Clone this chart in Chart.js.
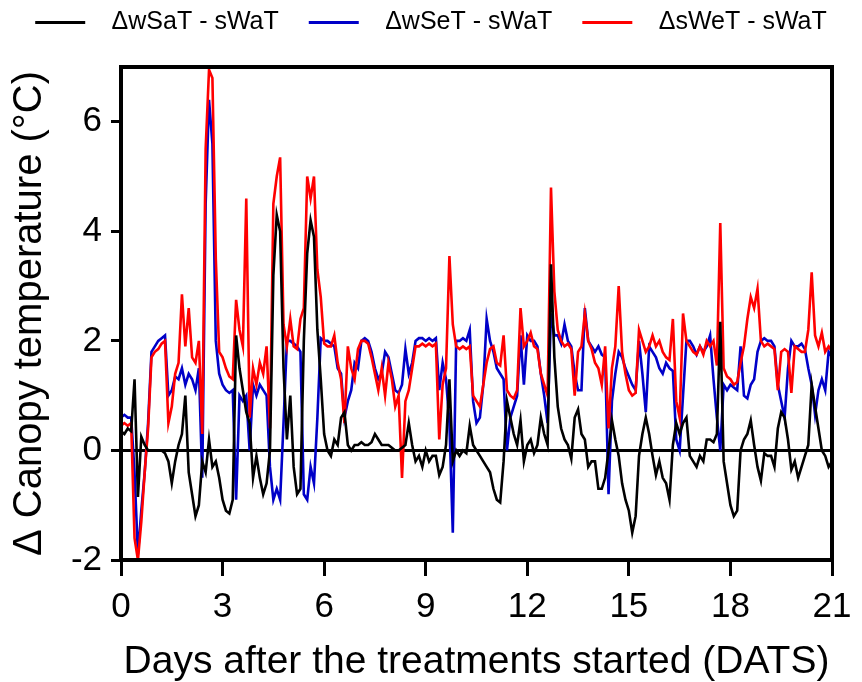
<!DOCTYPE html>
<html><head><meta charset="utf-8">
<script src="https://cdn.jsdelivr.net/npm/chart.js@4.4.0/dist/chart.umd.min.js"></script>
<style>html,body{margin:0;padding:0;background:#fff}#c{display:block}</style>
</head><body>
<canvas id="c" width="862" height="682"></canvas>
<script>
const seriesNames = ['ΔwSaT - sWaT', 'ΔwSeT - sWaT', 'ΔsWeT - sWaT'];
const xTickValues = [0, 3, 6, 9, 12, 15, 18, 21];
const yTickValues = [-2, 0, 2, 4, 6];
const xTitle = 'Days after the treatments started (DATS)';
const yTitle = 'Δ Canopy temperature (°C)';
const sampleStepDays = 0.1;

// ΔwSaT - sWaT (black), one reading every 0.1 day from day 0 to day 21
const wSaT = [
  0.35,0.30,0.40,0.35,1.30,-0.85,0.25,0.10,0.00,0.00,
  0.00,0.00,0.00,-0.05,-0.20,-0.60,-0.20,0.10,0.30,1.00,
  -0.40,-0.80,-1.20,-1.00,-0.20,-0.40,0.20,-0.30,-0.20,-0.50,
  -0.90,-1.10,-1.15,-0.90,2.10,1.50,1.10,0.70,0.50,-0.50,
  -0.10,-0.50,-0.80,-0.60,0.00,3.20,4.30,4.00,1.50,0.20,
  1.00,-0.30,-0.80,-0.70,2.00,3.60,4.20,3.90,2.20,1.30,
  0.30,0.00,-0.10,0.20,0.10,0.60,0.70,0.10,0.00,0.10,
  0.10,0.15,0.10,0.10,0.15,0.30,0.20,0.10,0.10,0.10,
  0.05,0.00,0.00,0.05,0.10,0.50,0.10,-0.20,-0.10,-0.30,
  0.00,-0.20,-0.10,-0.10,-0.45,-0.30,0.10,1.30,-0.20,0.00,
  -0.10,0.00,-0.05,0.45,0.10,0.00,-0.10,-0.20,-0.30,-0.40,
  -0.70,-0.90,-0.95,-0.20,0.90,0.60,0.30,0.10,0.55,-0.20,
  0.10,0.20,-0.05,0.10,0.60,0.30,0.10,3.40,1.70,0.80,
  0.40,0.20,0.10,-0.15,0.60,0.75,0.30,0.20,-0.30,-0.20,
  -0.20,-0.70,-0.70,-0.50,0.00,0.55,0.20,-0.10,-0.60,-0.90,
  -1.10,-1.50,-1.20,-0.10,0.30,0.60,0.30,-0.10,-0.45,-0.20,
  -0.50,-0.60,-0.90,0.10,0.50,0.30,0.50,0.60,-0.10,-0.20,
  -0.30,-0.10,-0.20,0.20,0.20,0.15,0.30,2.35,-0.20,-0.60,
  -1.00,-1.20,-1.10,0.00,0.20,0.30,0.55,0.10,-0.30,-0.55,
  -0.05,-0.10,-0.10,-0.30,0.40,0.70,0.60,0.20,-0.35,-0.20,
  -0.50,-0.30,-0.10,0.10,1.20,0.80,0.40,0.00,-0.10,-0.30,
  -0.20
];

// ΔwSeT - sWaT (blue)
const wSeT = [
  0.60,0.65,0.60,0.60,-0.40,-1.90,-1.10,-0.40,0.50,1.80,
  1.90,2.00,2.05,2.10,1.00,1.10,1.35,1.30,1.50,1.20,
  1.40,1.30,1.10,1.50,-0.50,4.50,6.40,5.60,2.00,1.40,
  1.20,1.10,1.05,1.10,-0.90,1.00,0.90,1.00,0.00,1.20,
  1.00,1.20,1.10,1.00,-0.30,-0.90,-0.70,-0.90,0.50,2.00,
  2.00,1.95,1.90,1.80,-0.80,-0.90,-0.30,-0.60,0.60,2.05,
  2.00,2.00,1.95,1.90,1.50,1.40,0.60,0.90,1.10,1.60,
  1.50,2.00,2.05,2.00,1.80,1.50,1.30,1.40,1.80,1.70,
  1.40,1.10,1.05,1.20,1.85,1.40,1.60,2.00,2.05,2.05,
  2.00,2.05,2.00,2.05,1.10,1.60,1.30,0.50,-1.50,2.00,
  2.00,2.05,2.00,2.20,0.90,0.50,0.60,1.20,2.40,2.00,
  1.80,1.50,1.40,1.30,0.00,0.60,0.80,1.00,2.10,1.20,
  2.10,2.00,2.00,1.90,1.40,1.00,0.50,2.50,2.10,2.10,
  1.95,2.30,2.00,1.90,1.40,1.10,1.10,2.60,2.00,1.90,
  1.80,1.90,1.75,1.70,-0.80,0.90,1.40,1.80,1.70,1.50,
  1.35,1.20,1.10,2.00,1.40,0.70,1.90,1.80,1.70,1.50,
  1.40,1.60,1.50,1.45,0.20,0.00,1.00,2.00,2.00,1.90,
  1.75,1.90,1.80,1.90,2.10,1.30,0.60,0.00,1.20,1.10,
  1.20,1.15,1.10,1.90,1.00,0.95,1.20,1.30,1.80,2.00,
  2.05,2.00,2.00,1.90,1.20,0.90,0.60,1.50,2.00,1.90,
  1.90,1.95,1.85,1.50,1.20,0.65,1.10,1.30,1.10,1.80,
  1.70
];

// ΔsWeT - sWaT (red)
const sWeT = [
  0.45,0.50,0.45,0.50,-1.60,-2.00,-1.30,-0.40,0.40,1.70,
  1.80,1.85,1.95,2.00,0.50,0.80,1.40,1.60,2.85,1.90,
  2.60,1.70,1.60,2.00,0.30,5.50,6.95,6.80,3.50,1.80,
  1.70,1.50,1.35,1.30,2.75,2.20,1.90,4.60,0.60,1.50,
  1.20,1.60,1.40,1.90,0.40,4.50,5.00,5.35,2.30,1.90,
  2.40,1.90,1.85,2.40,2.60,5.00,4.60,5.00,3.30,2.80,
  1.95,1.90,1.90,2.10,1.60,1.30,0.50,1.90,1.50,1.30,
  1.85,2.00,2.00,1.95,1.70,1.40,1.10,1.50,1.00,1.60,
  1.30,0.80,1.00,-0.50,0.90,1.10,1.50,1.90,1.90,1.95,
  1.90,1.95,1.90,1.95,0.20,1.20,1.50,3.55,2.30,1.90,
  1.85,1.90,1.85,1.90,1.00,0.90,0.80,1.20,1.60,1.85,
  1.90,1.60,1.55,2.10,1.10,1.00,0.95,1.10,2.60,1.90,
  2.00,2.15,1.90,1.85,1.40,1.20,1.00,4.80,2.90,2.20,
  2.00,1.90,1.95,1.85,1.00,1.80,1.90,2.50,2.00,1.85,
  1.60,1.50,1.20,1.90,0.40,1.50,1.90,3.00,1.80,1.40,
  1.10,1.00,1.05,2.20,2.00,1.80,1.90,2.10,1.90,2.00,
  1.80,1.70,1.65,2.40,0.90,0.60,2.50,2.00,1.90,1.80,
  1.75,1.90,1.75,2.00,1.90,2.00,1.55,4.15,1.50,1.35,
  1.30,1.20,1.25,1.60,1.90,2.40,2.80,2.60,2.95,2.00,
  1.90,1.95,1.90,1.85,1.10,1.80,1.85,1.80,1.05,1.90,
  1.85,1.80,1.80,2.20,3.25,2.10,1.90,2.15,1.80,1.90,
  1.80
];

const days = wSaT.map((_, i) => Math.round(i * sampleStepDays * 100) / 100);
const toPoints = vals => vals.map((v, i) => ({x: days[i], y: v}));

Chart.defaults.font.family = "'Liberation Sans', Arial, Helvetica, sans-serif";
Chart.defaults.color = '#000';

const legendSpacer = {
  id: 'legendSpacer',
  beforeInit(chart) {
    const fit = chart.legend.fit;
    chart.legend.fit = function () { fit.call(this); this.height += 22; };
  }
};
const frame = {
  id: 'frame',
  afterDatasetsDraw(chart) {
    const {ctx, chartArea: a} = chart;
    ctx.save();
    ctx.lineWidth = 4;
    ctx.strokeStyle = '#000';
    ctx.strokeRect(a.left, a.top, a.right - a.left, a.bottom - a.top);
    ctx.restore();
  }
};

const lineDs = (label, vals, color, order) => ({
  label, data: toPoints(vals), borderColor: color, backgroundColor: color,
  borderWidth: 2.6, pointRadius: 0, tension: 0, fill: false, order, yAxisID: 'y'
});

new Chart(document.getElementById('c'), {
  type: 'line',
  data: {
    datasets: [
      lineDs(seriesNames[0], wSaT, '#000000', 0),
      lineDs(seriesNames[1], wSeT, '#0000c8', 2),
      lineDs(seriesNames[2], sWeT, '#ff0000', 1)
    ]
  },
  options: {
    responsive: false,
    animation: false,
    devicePixelRatio: 1,
    layout: {padding: {left: 0, right: 0, top: -20, bottom: 0}},
    plugins: {
      tooltip: {enabled: false},
      legend: {
        position: 'top',
        labels: {
          boxWidth: 50, boxHeight: 3, padding: 30,
          font: {size: 25},
          color: '#000',
          generateLabels(chart) {
            return chart.data.datasets.map((ds, i) => ({
              text: '  ' + ds.label,
              fillStyle: ds.borderColor, strokeStyle: ds.borderColor,
              lineWidth: 0, hidden: false, datasetIndex: i, fontColor: '#000'
            }));
          }
        }
      }
    },
    scales: {
      x: {
        type: 'linear', min: 0, max: 21,
        afterBuildTicks: s => { s.ticks = xTickValues.map(v => ({value: v})); },
        afterFit: s => { s.height = 122; },
        ticks: {font: {size: 35}, padding: 10, maxRotation: 0, autoSkip: false},
        grid: {drawOnChartArea: false, drawTicks: true, tickLength: 16, tickColor: '#000', tickWidth: 3},
        border: {display: false},
        title: {display: true, text: xTitle, font: {size: 39, lineHeight: 1}, padding: {top: 0, bottom: 0}}
      },
      y: {
        type: 'linear', min: -2, max: 7,
        afterBuildTicks: s => { s.ticks = yTickValues.map(v => ({value: v})); },
        afterFit: s => { s.width = 121; },
        ticks: {font: {size: 35}, padding: 9, autoSkip: false},
        grid: {
          drawOnChartArea: true, drawTicks: true, tickLength: 10, tickColor: '#000', tickWidth: 3,
          color: c => (c.tick && c.tick.value === 0) ? '#000' : 'rgba(0,0,0,0)',
          lineWidth: c => (c.tick && c.tick.value === 0) ? 3 : 1
        },
        border: {display: false},
        title: {display: true, text: yTitle, font: {size: 40, lineHeight: 1}, padding: {top: 10, bottom: 0}}
      },
      yRight: {
        position: 'right', display: true,
        afterFit: s => { s.width = 30; },
        ticks: {display: false},
        grid: {display: false},
        border: {display: false}
      }
    }
  },
  plugins: [legendSpacer, frame]
});
</script>
</body></html>
